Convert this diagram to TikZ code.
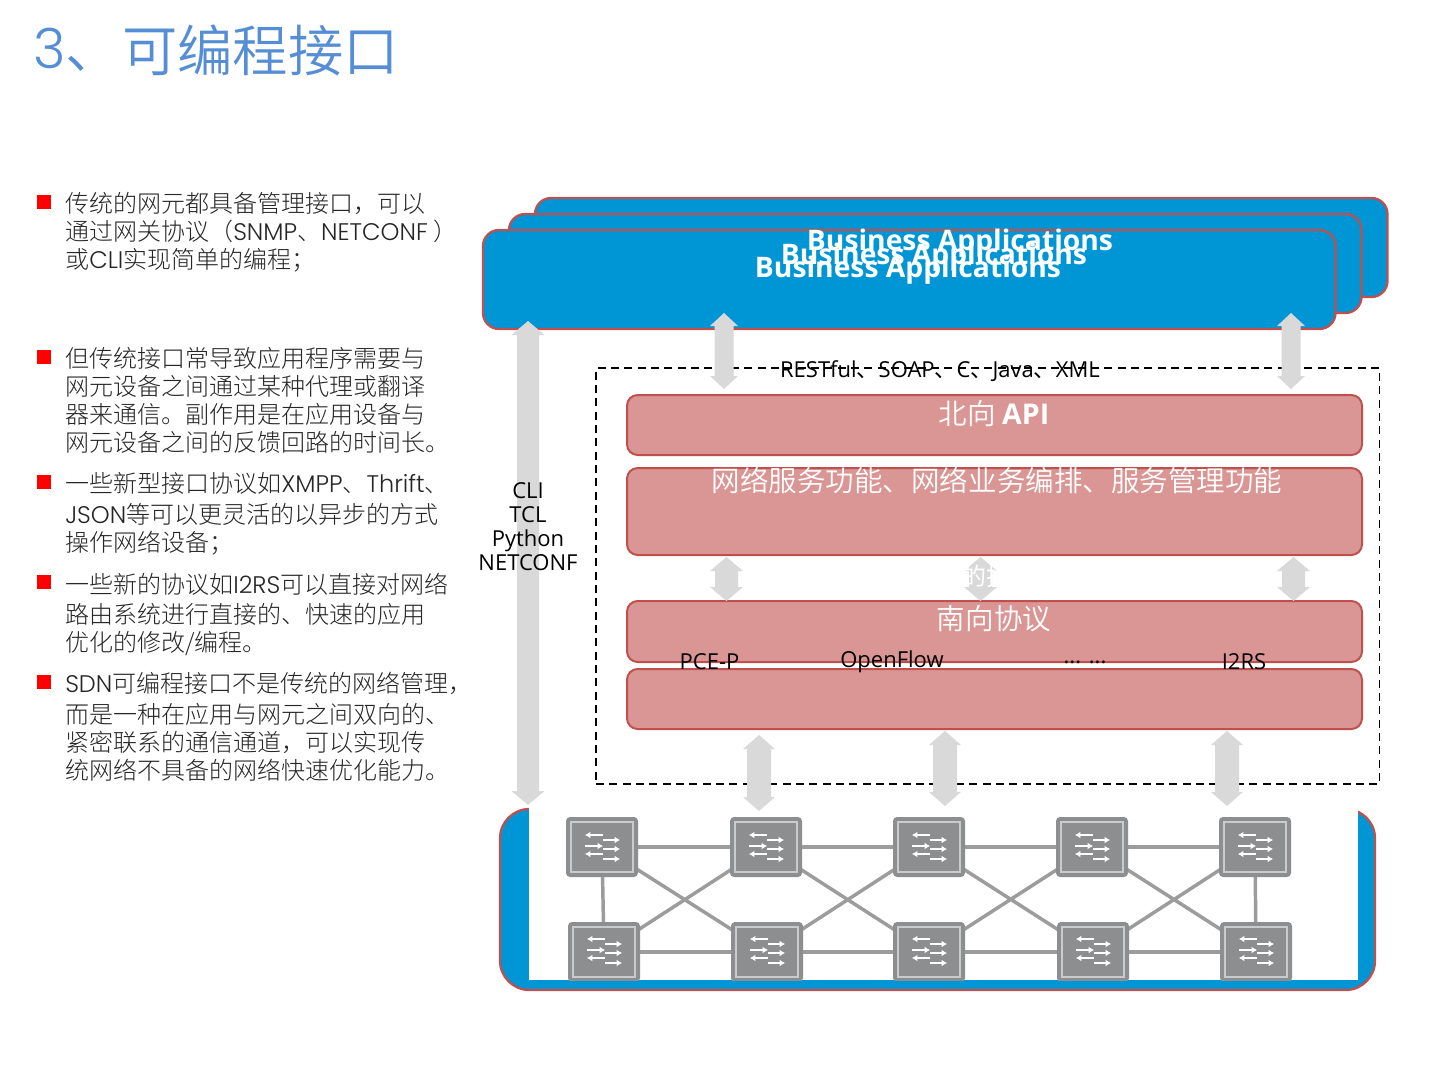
\documentclass[tikz,border=0pt]{standalone}
\usepackage{fontspec}
\usetikzlibrary{calc}
\usetikzlibrary{arrows.meta}
\setmainfont{Open Sans}
\newfontfamily\cn{Noto Sans CJK SC Light}
\newfontfamily\cnd{Noto Sans CJK SC DemiLight}
\newfontfamily\cnr{Noto Sans CJK SC}
\newfontfamily\pop{Poppins Light}
\newfontfamily\seg{Open Sans}
\newcommand{\la}[1]{{\pop #1}}
\newcommand{\dun}{{\cnr 、}}
\definecolor{bluefill}{HTML}{0096D6}
\definecolor{redline}{HTML}{C0504D}
\definecolor{pinkfill}{HTML}{D99694}
\definecolor{arrowgray}{HTML}{D9D9D9}
\definecolor{titleblue}{HTML}{558ED5}
\definecolor{swgray}{HTML}{8C8E90}
\definecolor{swframe}{HTML}{C9CBCC}
\definecolor{linkgray}{HTML}{9C9C9C}
\definecolor{txt}{HTML}{262626}
\tikzset{
  bluebox/.style={draw=redline,line width=1.7pt,fill=bluefill,rounded corners=12pt,inner sep=0pt,outer sep=0pt},
  pinkbox/.style={draw=redline,line width=1.5pt,fill=pinkfill,rounded corners=8pt,inner sep=0pt,outer sep=0pt},
  bullet/.style={fill=red,inner sep=0pt,minimum size=10.5pt},
  para/.style={anchor=north west,align=left,inner sep=0pt,font=\cn\fontsize{18pt}{21pt}\selectfont,text=txt},
  whitecn/.style={text=white,inner sep=0pt,font=\cnd\fontsize{21.4pt}{25pt}\selectfont},
  titlefont/.style={anchor=west,inner sep=0pt,text=titleblue,font=\cnd\fontsize{41.5pt}{45pt}\selectfont},
  biz/.style={text=white,inner sep=0pt,font=\seg\bfseries\fontsize{21.2pt}{25pt}\selectfont},
  lab/.style={text=black,inner sep=0pt,font=\seg\fontsize{16.5pt}{18pt}\selectfont},
  swbox/.style={fill=swgray,rounded corners=3pt,minimum width=54pt,minimum height=45pt,inner sep=0pt,outer sep=0pt},
  swin/.style={draw=swframe,line width=1pt},
  swar/.style={draw=white,line width=1.7pt,-{Latex[length=4pt,width=5pt]}},
  link/.style={draw=linkgray,line width=2.6pt},
}
% style, name, x1, y1, x2, y2
\newcommand{\pxbox}[6]{%
  \pgfmathsetmacro{\cxx}{(#3+#5)/2}\pgfmathsetmacro{\cyy}{(#4+#6)/2}%
  \pgfmathsetmacro{\ww}{(#5-#3)*0.75}\pgfmathsetmacro{\hh}{(#6-#4)*0.75}%
  \node[#1,minimum width=\ww pt,minimum height=\hh pt] (#2) at (\cxx,\cyy) {};}
% top coordinate, bottom coordinate, half shaft, half head, head height
\newcommand{\blockarrow}[5]{%
  \fill[arrowgray] (#1) -- ($(#1)+(#4,#5)$) -- ($(#1)+(#3,#5)$) -- ($(#2)+(#3,-#5)$) -- ($(#2)+(#4,-#5)$)
   -- (#2) -- ($(#2)+(-#4,-#5)$) -- ($(#2)+(-#3,-#5)$) -- ($(#1)+(-#3,#5)$) -- ($(#1)+(-#4,#5)$) -- cycle;}
% name, x, y, y-shift of arrows
\newcommand{\switch}[4]{%
  \node[swbox] (#1) at (#2,#3) {};
  \draw[swin] ($(#1.north west)+(5,5)$) rectangle ($(#1.south east)+(-5,-5)$);
  \draw[swar] ($(#1.center)+(1,-12+#4)$) -- +(-18,0);
  \draw[swar] ($(#1.center)+(-17,-1+#4)$) -- +(18,0);
  \draw[swar] ($(#1.center)+(1,7+#4)$) -- +(-18,0);
  \draw[swar] ($(#1.center)+(1,-7+#4)$) -- +(17,0);
  \draw[swar] ($(#1.center)+(1,2+#4)$) -- +(17,0);
  \draw[swar] ($(#1.center)+(1,12+#4)$) -- +(17,0);}
\begin{document}
\begin{tikzpicture}[x=0.75pt,y=-0.75pt]
\useasboundingbox (0,0) rectangle (1442,1082);
\fill[white] (0,0) rectangle (1442,1082);
% title
\node[titlefont] (title3) at (33,50) {\la{3}、};
\node[titlefont] (title) at (122,50) {可编程接口};
% bullets
\node[bullet] (b1) at (44,202) {};
\node[bullet] (b2) at (44,357) {};
\node[bullet] (b3) at (44,482) {};
\node[bullet] (b4) at (44,582) {};
\node[bullet] (b5) at (44,682) {};
% text
\node[para] (p1) at (65,192) {传统的网元都具备管理接口，可以\\通过网关协议（\la{SNMP}、\la{NETCONF}\hspace{4.5pt}）\\或\la{CLI}实现简单的编程；};
\node[para] (p2) at (65,347) {但传统接口常导致应用程序需要与\\网元设备之间通过某种代理或翻译\\器来通信。副作用是在应用设备与\\网元设备之间的反馈回路的时间长。};
\node[para] (p3) at (65,472) {一些新型接口协议如\la{XMPP}、\la{Thrift}、\\[2pt]\la{JSON}等可以更灵活的以异步的方式\\操作网络设备；};
\node[para] (p4) at (65,573) {一些新的协议如\la{I2RS}可以直接对网络\\[1.5pt]路由系统进行直接的、快速的应用\\优化的修改/编程。};
\node[para] (p5) at (65,672) {\la{SDN}可编程接口不是传统的网络管理，\\[2pt]而是一种在应用与网元之间双向的、\\紧密联系的通信通道，可以实现传\\统网络不具备的网络快速优化能力。};
% application boxes
\pxbox{bluebox}{app3}{535}{198}{1387.5}{297}
\pxbox{bluebox}{app2}{509}{214}{1361.5}{313}
\pxbox{bluebox}{app1}{483}{230}{1335.5}{329}
\node[biz] (biz3) at (960,243) {Business Applications};
\node[biz] (biz2) at (934,257) {Business Applications};
\node[biz] (biz1) at (908,270) {Business Applications};
% dashed frame
\pxbox{draw=black,line width=1.4pt,dash pattern=on 6pt off 4pt,inner sep=0pt,outer sep=0pt}{frame}{596}{368}{1379.5}{784}
% controller layers
\pxbox{pinkbox}{north}{627}{395}{1362}{455}
\pxbox{pinkbox}{serv}{627}{468}{1362}{555}
\pxbox{pinkbox}{south}{627}{601}{1362}{662}
\pxbox{pinkbox}{lower}{627}{669}{1362}{729}
% network box
\pxbox{bluebox,rounded corners=22pt}{net}{500}{809}{1375}{990}
\fill[white] (529,800) rectangle (1358,980);
\begin{scope}
\clip (529,800) rectangle (1358,980);
\coordinate (t1) at (602,847); \coordinate (t2) at (766,847); \coordinate (t3) at (929,847); \coordinate (t4) at (1092,847); \coordinate (t5) at (1255,847);
\coordinate (u1) at (604,952); \coordinate (u2) at (767,952); \coordinate (u3) at (929,952); \coordinate (u4) at (1093,952); \coordinate (u5) at (1256,952);
\draw[link] (t1) -- (t2) -- (t3) -- (t4) -- (t5);
\draw[link] (u1) -- (u2) -- (u3) -- (u4) -- (u5);
\draw[link] (t1) -- (u1) (t5) -- (u5);
\draw[link] (t1) -- (u2) (t2) -- (u1) (t2) -- (u3) (t3) -- (u2) (t3) -- (u4) (t4) -- (u3) (t4) -- (u5) (t5) -- (u4);
\switch{s1}{602}{847}{0}
\switch{s2}{766}{847}{0}
\switch{s3}{929}{847}{0}
\switch{s4}{1092}{847}{0}
\switch{s5}{1255}{847}{0}
\switch{v1}{604}{952}{-1}
\switch{v2}{767}{952}{-1}
\switch{v3}{929}{952}{-1}
\switch{v4}{1093}{952}{-1}
\switch{v5}{1256}{952}{-1}
\end{scope}
% block arrows
\coordinate (a0t) at (528,321); \coordinate (a0b) at (528,805);
\blockarrow{a0t}{a0b}{11}{16.5}{14}
\coordinate (a1t) at (724,313); \coordinate (a1b) at (724,389);
\blockarrow{a1t}{a1b}{9.5}{14}{13}
\coordinate (a2t) at (1291,313); \coordinate (a2b) at (1291,389);
\blockarrow{a2t}{a2b}{9.5}{14}{13}
\coordinate (a3t) at (726.5,557); \coordinate (a3b) at (726.5,601);
\blockarrow{a3t}{a3b}{11.5}{16.5}{14}
\coordinate (a4t) at (980.5,557); \coordinate (a4b) at (980.5,601);
\blockarrow{a4t}{a4b}{11.5}{16.5}{14}
\coordinate (a5t) at (1293.5,557); \coordinate (a5b) at (1293.5,601);
\blockarrow{a5t}{a5b}{11.5}{16.5}{14}
\coordinate (a6t) at (759,735); \coordinate (a6b) at (759,811);
\blockarrow{a6t}{a6b}{12}{16}{14}
\coordinate (a7t) at (945,731); \coordinate (a7b) at (945,806);
\blockarrow{a7t}{a7b}{12}{16}{14}
\coordinate (a8t) at (1227,731); \coordinate (a8b) at (1227,806);
\blockarrow{a8t}{a8b}{12}{16}{14}
% labels
\node[lab,align=center,font=\seg\fontsize{16.5pt}{18pt}\selectfont] (cli) at (528,527) {CLI\\TCL\\Python\\NETCONF};
\node[lab] (rest) at (940,371) {RESTful\dun SOAP\dun C\dun Java\dun XML};
\node[whitecn] (northt) at (994,414) {北向 {\seg\bfseries API}};
\node[whitecn] (servt) at (997,480) {网络服务功能、网络业务编排、服务管理功能};
\node[text=white,inner sep=0pt,font=\cnr\fontsize{18pt}{20pt}\selectfont] (hidden) at (986,576) {的抽};
\node[whitecn] (southt) at (994,619) {南向协议};
\node[lab] (pce) at (709.5,662) {PCE-P};
\node[lab] (of) at (892,662) {OpenFlow};
\node[lab] (dots) at (1085,662) {... ...};
\node[lab] (i2rs) at (1244,662) {I2RS};
\end{tikzpicture}
\end{document}
